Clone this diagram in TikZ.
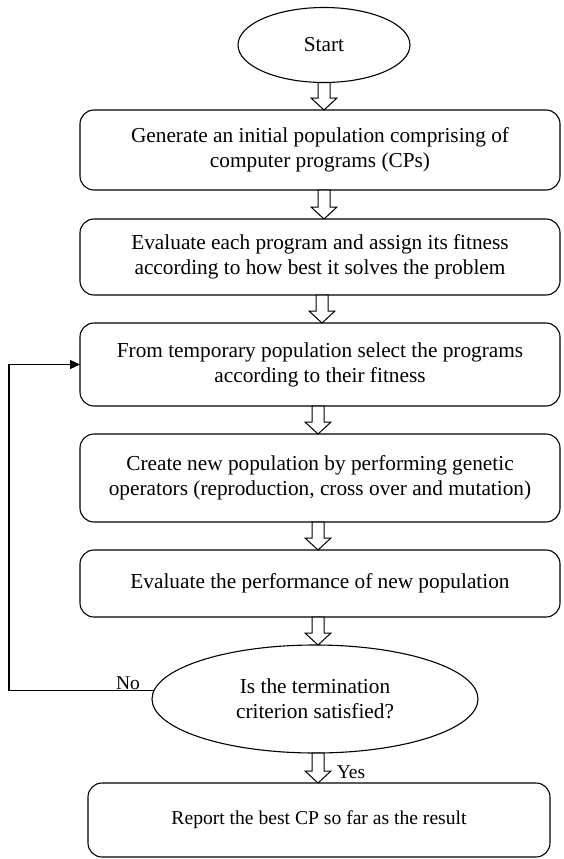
\documentclass[tikz,border=0pt]{standalone}
\usepackage{fontspec}
\setmainfont{Liberation Serif}
\usetikzlibrary{shapes.geometric,arrows.meta,calc}
\begin{document}
\begin{tikzpicture}[x=1pt,y=-1pt,
  every node/.style={font=\fontsize{21.3}{25}\selectfont, outer sep=0pt},
  procbox/.style={draw, line width=1.1pt, rounded corners=14pt, align=center, minimum width=480pt, inner sep=0pt},
  oval/.style={draw, ellipse, line width=1.1pt, align=center, inner sep=0pt},
  hollow/.style={to path={let \p1=(\tikztostart), \p2=(\tikztotarget) in
    (\x1-6pt,\y1) -- (\x1+6pt,\y1) -- (\x1+6pt,\y2+12pt) -- (\x1+13pt,\y2+12pt) -- (\x1,\y2) -- (\x1-13pt,\y2+12pt) -- (\x1-6pt,\y2+12pt) -- cycle}},
  blockarrow/.style={draw, fill=white, line width=1pt, line join=miter},
  lbl/.style={font=\fontsize{19.5}{23}\selectfont, inner sep=0pt},
  loopline/.style={draw, line width=1.1pt, -{Triangle[length=10pt,width=9pt]}}
]
\useasboundingbox (0,0) rectangle (564,859);

\node[oval, minimum width=172pt, minimum height=75pt] (start) at (324,45) {Start};
\node[procbox, minimum height=80pt] (b1) at (320,150) {Generate an initial population comprising of\\computer programs (CPs)};
\node[procbox, minimum height=76pt] (b2) at (320,257) {Evaluate each program and assign its fitness\\according to how best it solves the problem};
\node[procbox, minimum height=83pt] (b3) at (320,364.5) {From temporary population select the programs\\according to their fitness};
\node[procbox, minimum height=88pt] (b4) at (320,478) {Create new population by performing genetic\\operators (reproduction, cross over and mutation)};
\node[procbox, minimum height=67pt] (b5) at (320,583.5) {Evaluate the performance of new population};
\node[oval, minimum width=326pt, minimum height=108pt] (dec) at (315,699) {Is the termination\\criterion satisfied?};
\node[procbox, minimum width=462pt, minimum height=74pt, font=\fontsize{19.6}{23}\selectfont] (fin) at (319,820) {Report the best CP so far as the result};

\draw[blockarrow] (start.south) to[hollow] (b1.north);
\draw[blockarrow] ([xshift=4pt]b1.south) to[hollow] (b2.north);
\draw[blockarrow] ([xshift=2pt]b2.south) to[hollow] (b3.north);
\draw[blockarrow] ([xshift=-2pt]b3.south) to[hollow] (b4.north);
\draw[blockarrow] ([xshift=-2pt]b4.south) to[hollow] (b5.north);
\draw[blockarrow] ([xshift=-2pt]b5.south) to[hollow] (dec.north);
\draw[blockarrow] ([xshift=3pt]dec.south) to[hollow] (fin.north);

\coordinate (lp) at (9,692);
\draw[loopline] (dec.177) -- (dec.177 -| lp) |- (b3.west);

\node[lbl] (no) at (128,683) {No};
\node[lbl] (yes) at (351,772) {Yes};
\end{tikzpicture}
\end{document}
